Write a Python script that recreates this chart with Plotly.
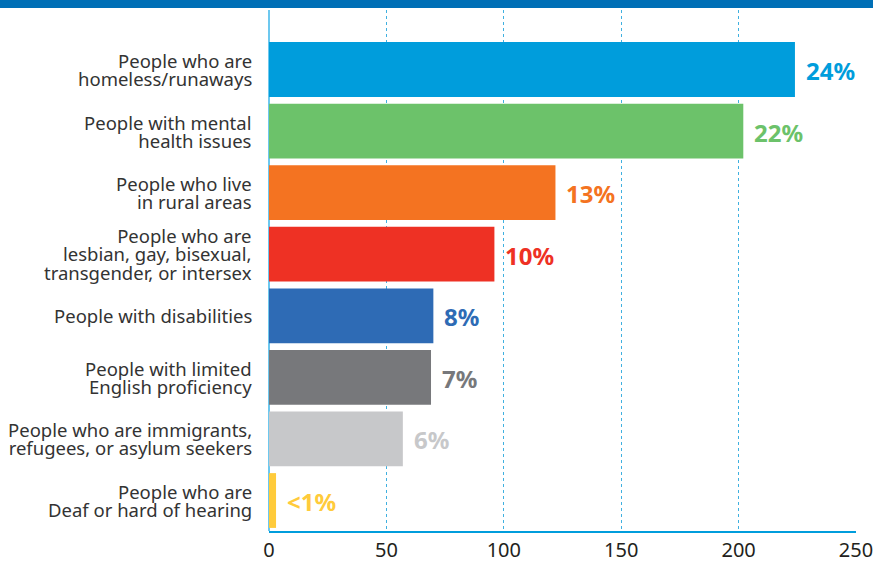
import plotly.graph_objects as go

categories = [
    "People who are<br>homeless/runaways",
    "People with mental<br>health issues",
    "People who live<br>in rural areas",
    "People who are<br>lesbian, gay, bisexual,<br>transgender, or intersex",
    "People with disabilities",
    "People with limited<br>English proficiency",
    "People who are immigrants,<br>refugees, or asylum seekers",
    "People who are<br>Deaf or hard of hearing",
]
values = [224, 202, 122, 96, 70, 69, 57, 3]
pct_labels = ["24%", "22%", "13%", "10%", "8%", "7%", "6%", "<1%"]
colors = ["#009ddc", "#6cc26a", "#f47321", "#ee3124", "#2e6bb5", "#77787b", "#c7c8ca", "#ffcb3b"]
x_ticks = [0, 50, 100, 150, 200, 250]

fig = go.Figure()
fig.add_trace(go.Bar(
    y=categories, x=values, orientation="h",
    marker=dict(color=colors, line=dict(width=0)),
    width=0.89, hoverinfo="skip",
))

for cat, v, lab, c in zip(categories, values, pct_labels, colors):
    fig.add_annotation(
        x=v, y=cat, text="<b>" + lab + "</b>", showarrow=False,
        xanchor="left", yanchor="middle", xshift=9, yshift=-1,
        font=dict(family="Noto Sans", size=24, color=c),
    )

# category labels: small base font sets tight line spacing, span sets glyph size
for cat in categories:
    lines = cat.split("<br>")
    txt = "<br>".join('<span style="font-size:18.5px">' + ln + "</span>" for ln in lines)
    fig.add_annotation(
        x=0, y=cat, text=txt, showarrow=False, align="right",
        xanchor="right", yanchor="middle", xshift=-15,
        font=dict(family="Noto Sans", size=14.2, color="#333333"),
    )

fig.add_shape(
    type="rect", xref="paper", yref="paper",
    x0=-0.5, x1=1.1, y0=1.0038, y1=1.03,
    fillcolor="#006fb6", line=dict(width=0), layer="above",
)

fig.update_layout(
    width=873, height=563,
    margin=dict(l=269, r=17, t=10, b=32),
    paper_bgcolor="white", plot_bgcolor="white",
    showlegend=False,
    font=dict(family="Noto Sans", color="#231f20"),
    xaxis=dict(
        range=[0, 250], tickvals=x_ticks, ticktext=[str(t) for t in x_ticks],
        showgrid=True, gridcolor="#3fb0e0", griddash="dot", gridwidth=1,
        zeroline=True, zerolinecolor="#6dc8ef", zerolinewidth=2,
        showline=True, linecolor="#009ddc", linewidth=2,
        ticks="", tickfont=dict(size=20, color="#231f20"),
        ticklabeloverflow="allow",
        automargin=False, fixedrange=True,
    ),
    yaxis=dict(
        categoryorder="array", categoryarray=categories,
        range=[7.495, -0.966],
        showgrid=False, zeroline=False, showline=False,
        showticklabels=False, ticks="",
        automargin=False, fixedrange=True,
    ),
)

fig.write_html("out.html")
